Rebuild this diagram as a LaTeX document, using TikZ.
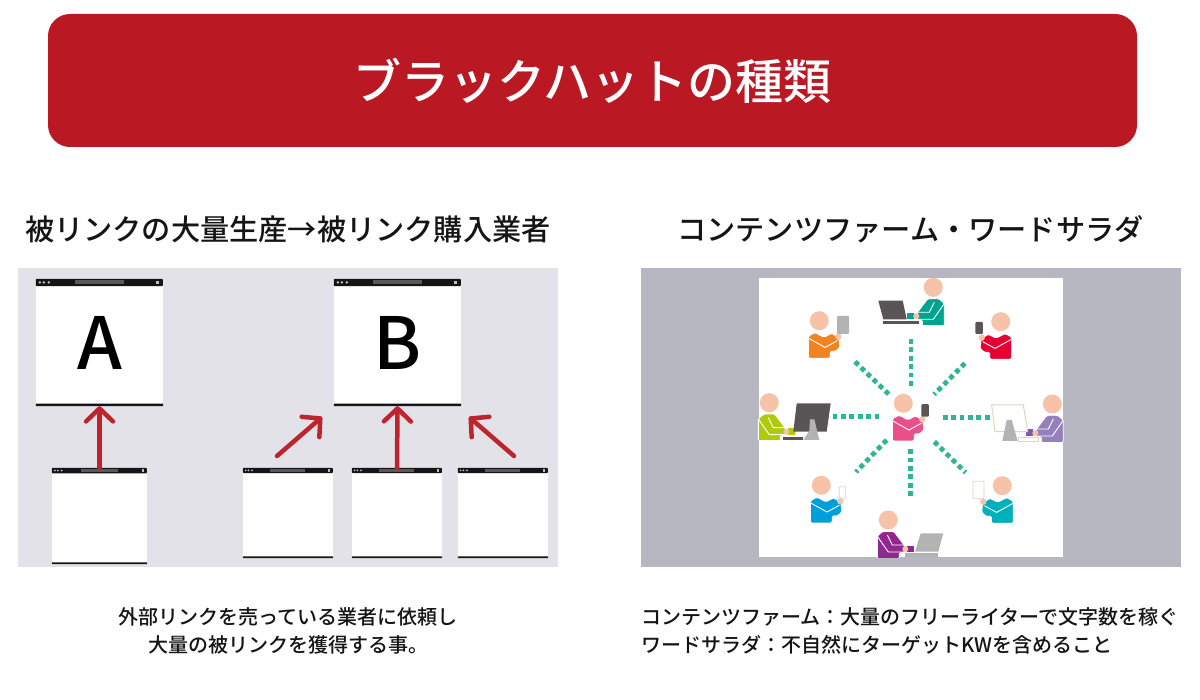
\documentclass[tikz,border=0pt]{standalone}
\usepackage{fontspec}
\setmainfont{Noto Sans CJK JP Medium}
\usetikzlibrary{arrows.meta,calc}
\definecolor{themecolor}{HTML}{BA1823}
\definecolor{paleback}{HTML}{E4E2E9}
\definecolor{greyback}{HTML}{B7B7C2}
\definecolor{inkblack}{HTML}{151515}
\definecolor{dotgreen}{HTML}{2DB596}
\definecolor{skincolor}{HTML}{F7C3A8}
\definecolor{darkdevice}{HTML}{595556}
\definecolor{lightdevice}{HTML}{B3B3B3}
\definecolor{beigeline}{HTML}{E0D5C3}
\newcommand{\widecolon}{\symbol{"FF1A}}

\begin{document}
\begin{tikzpicture}[x=1pt,y=-1pt]
  %%Create a style for the things we are using
  \tikzset{title box/.style={fill=themecolor,rounded corners=22pt,text=white,font=\fontsize{48}{48}\selectfont,minimum width=1089pt,minimum height=133pt,inner sep=0pt}}
  \tikzset{head text/.style={text=inkblack,font=\fontsize{29.2}{29.2}\selectfont,inner sep=0pt}}
  \tikzset{body text/.style={text=inkblack,font=\fontsize{20}{20}\selectfont,inner sep=0pt}}
  \tikzset{page/.style={fill=white,inner sep=0pt,text=black,font=\fontsize{72}{72}\selectfont}}
  \tikzset{link arrow/.style={draw,line width=4.5pt,line cap=round,color=themecolor!95!white,-{Straight Barb[length=13pt,width=27pt,round]}}}
  \tikzset{dot line/.style={draw,line width=4.8pt,color=dotgreen,dash pattern=on 4.8pt off 3.6pt}}
  \tikzset{head circle/.style={circle,fill=skincolor,minimum size=19pt,inner sep=0pt}}
  \tikzset{white line/.style={draw=white,line width=.9pt}}
  \tikzset{device/.style={inner sep=0pt,rounded corners=1pt}}
  \useasboundingbox (0,0) rectangle (1200,700);
  \fill[white] (0,0) rectangle (1200,700);
  %%Title and the two backgrounds
  \node[title box] (title) at (592.5,80.5) {ブラックハットの種類};
  \node[head text] (lefthead) at (288,229) {被リンクの大量生産→被リンク購入業者};
  \node[head text] (righthead) at (910.5,229) {コンテンツファーム・ワードサラダ};
  \node[fill=paleback,minimum width=540pt,minimum height=299pt,inner sep=0pt] (leftback) at (288,417.5) {};
  \node[fill=greyback,minimum width=540pt,minimum height=299pt,inner sep=0pt] (rightback) at (911,417.5) {};
  \node[fill=white,minimum width=304pt,minimum height=279pt,inner sep=0pt] (rightsheet) at (911,417.5) {};
  %%Place the pages
  \node[page,minimum width=127pt,minimum height=127pt] (pageA) at (99.5,342.5) {\raisebox{-2pt}{A}};
  \node[page,minimum width=127pt,minimum height=127pt] (pageB) at (397.5,342.5) {\raisebox{-2pt}{B}};
  \node[page,minimum width=95pt,minimum height=96pt] (pageC) at (99.5,516) {};
  \node[page,minimum width=90pt,minimum height=90pt] (pageD) at (288,513) {};
  \node[page,minimum width=90pt,minimum height=90pt] (pageE) at (397,513) {};
  \node[page,minimum width=90pt,minimum height=90pt] (pageF) at (503,513) {};
  %%Header bar and bottom line of each page
  \foreach \pg/\w/\s in {pageA/127/1,pageB/127/1,pageC/95/.75,pageD/90/.71,pageE/90/.71,pageF/90/.71}{
    \begin{scope}[shift={(\pg.north west)}]
      \fill[inkblack,rounded corners=.8pt] (0,0) rectangle (\w,7.4*\s);
      \fill[white!35!black] ({\w*.305},1.6*\s) rectangle ({\w*.695},5.6*\s);
      \fill[white!75!black] ({\w-7*\s},1.8*\s) rectangle ({\w-3.4*\s},5.4*\s);
      \foreach \d in {4,8,13}{
        \fill[white!75!black] (\d*\s,3.6*\s) circle (1.4*\s);
      }
    \end{scope}
    \fill[inkblack,rounded corners=.6pt] ($(\pg.south west)+(0,-2.6*\s)$) rectangle (\pg.south east);
  }
  %%Drawing the arrows
  \coordinate (d1) at (277,456);
  \coordinate (d2) at (322,417);
  \coordinate (d3) at (514,456);
  \coordinate (d4) at (469,417);
  \path[link arrow] (pageC.north) -- (pageA.south);
  \path[link arrow] (pageE.north) -- (pageB.south);
  \path[link arrow] (d1) -- (d2);
  \path[link arrow] (d3) -- (d4);
  %%Texts below the pictures
  \node[body text] (leftline1) at (287.5,617) {外部リンクを売っている業者に依頼し};
  \node[body text] (leftline2) at (288,645) {大量の被リンクを獲得する事。};
  \node[body text,anchor=west] (rightline1) at (641,617) {コンテンツファーム\widecolon{}大量のフリーライターで文字数を稼ぐ};
  \node[body text,anchor=west] (rightline2) at (641,645) {ワードサラダ\widecolon{}不自然にターゲットKWを含めること};
  %%Dotted lines around the middle
  \foreach \n/\ax/\ay/\bx/\by in {l/832.5/416.7/880/416.7,r/942.7/417.7/990/417.7,t/911/339/911/386,b/910.3/449.3/910.3/496,nw/855/361.7/889/394.5,ne/965/363.3/934/394.5,sw/886.7/440/856/472,se/934.3/441.7/965.5/472.5}{
    \coordinate (s\n) at (\ax,\ay);
    \coordinate (e\n) at (\bx,\by);
    \path[dot line] (s\n) -- (e\n);
  }
  %%People holding something
  \foreach \nm/\px/\py/\flip/\shirtcode in {orange/819.3/320.7/1/F18420,red/1000.7/321.7/-1/E60033,blue/821.3/485.3/1/009FDC,cyan/1002.3/485.7/-1/00B0BB,pink/903.3/403.3/1/EA4F89}{
    \definecolor{shirt}{HTML}{\shirtcode}
    \begin{scope}[shift={(\px,\py)},xscale=\flip]
      \node[head circle] (head\nm) at (0,0) {};
      \filldraw[fill=shirt,white line,rounded corners=1.5pt] (-11,37.7) -- (-11,15.5) -- (-4.5,11.8) -- (4.7,16.5) -- (12.3,12.5) -- (19.5,17) -- (20.7,26.7) -- (15.7,31) -- (11,30.3) -- (11,37.7) -- cycle;
      \draw[white line] (-10.5,17.7) -- (5.7,26.7) -- (18,20);
      \fill[skincolor] (19,16) circle (3.2);
    \end{scope}
  }
  %%What they hold
  \node[device,fill=lightdevice,minimum width=12pt,minimum height=18pt] (tablet) at (843,325) {};
  \node[device,fill=darkdevice,minimum width=7.5pt,minimum height=12pt] (phonered) at (979,328) {};
  \node[device,fill=white,draw=beigeline,line width=.9pt,minimum width=6.5pt,minimum height=11.5pt] (phoneblue) at (842.5,492.5) {};
  \node[device,fill=white,draw=beigeline,line width=.9pt,minimum width=11pt,minimum height=17.5pt] (tabletcyan) at (978.5,490) {};
  \node[device,fill=darkdevice,minimum width=7.5pt,minimum height=12.5pt] (phonepink) at (925,410.5) {};
  %%People sitting at a computer
  \foreach \nm/\px/\py/\flip/\shirtcode/\cuffcode in {teal/933.3/287.3/-1/00A48E/00A48E,green/769.3/402.7/1/AFCB08/AFCB08,violet/1052.3/404/-1/9580BD/7B5CA8,purple/888.3/520/1/92278F/92278F}{
    \definecolor{shirt}{HTML}{\shirtcode}
    \definecolor{cuff}{HTML}{\cuffcode}
    \begin{scope}[shift={(\px,\py)},xscale=\flip]
      \node[head circle] (head\nm) at (0,0) {};
      \fill[cuff] (19,25.5) rectangle (26,32);
      \begin{scope}
        \clip (-11.4,0) rectangle (40,37.2);
        \filldraw[fill=shirt,white line,rounded corners=1.5pt] (-11,39) -- (-11,16) -- (-5.5,11.3) -- (5.5,11.3) -- (16.5,26) -- (16.5,32.5) -- (11,32.5) -- (11,39) -- cycle;
      \end{scope}
      \draw[white line] (-10.5,17) -- (0,32) -- (15,32);
      \draw[white line] (-1,15) -- (4,25) -- (16,25);
      \fill[skincolor] (17,29) circle (3);
    \end{scope}
  }
  %%Laptops
  \fill[darkdevice] (878.3,300.7) -- (902.7,300.7) -- (906.7,319.3) -- (883.3,319.3) -- cycle;
  \fill[darkdevice] (883.3,320.7) rectangle (919,324.3);
  \fill[lightdevice] (920.7,533.3) -- (943.3,533.3) -- (938.3,551.7) -- (915,551.7) -- cycle;
  \fill[lightdevice] (905,553.3) rectangle (938.3,556.7);
  %%Monitors
  \fill[darkdevice] (796.7,403.3) -- (830.7,403.3) -- (826.7,431.7) -- (793.3,431.7) -- cycle;
  \fill[lightdevice] (810,419.3) -- (814.3,419.3) -- (819.3,440) -- (803.3,440) -- (809.3,431) -- cycle;
  \fill[darkdevice] (783.3,436.7) rectangle (802.7,440);
  \filldraw[fill=white,draw=beigeline,line width=1pt] (991.7,405) -- (1023.3,405) -- (1027.7,431.7) -- (995,431.7) -- cycle;
  \fill[lightdevice] (1006.7,420) -- (1011.7,420) -- (1017.7,441) -- (1002.3,441) -- cycle;
  \filldraw[fill=white,draw=beigeline,line width=.9pt] (1018.3,437.6) rectangle (1038.3,441);
\end{tikzpicture}
\end{document}
